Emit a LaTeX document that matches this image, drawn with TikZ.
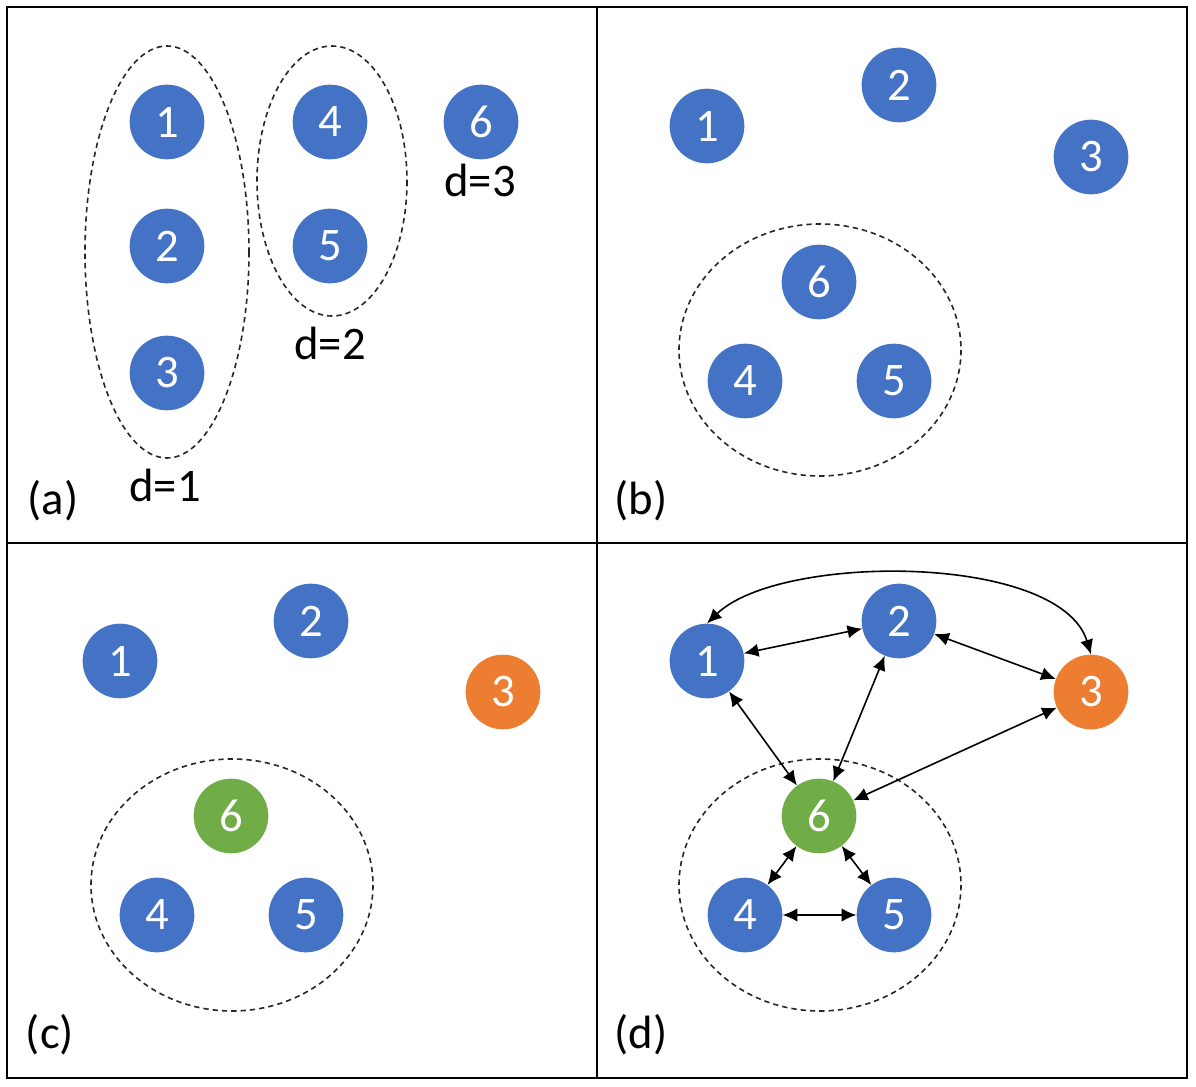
\documentclass[tikz,border=0pt]{standalone}
\usepackage{fontspec}
\setmainfont{Carlito}
\usetikzlibrary{arrows.meta}
\definecolor{nblue}{HTML}{4472C4}
\definecolor{norange}{HTML}{ED7D31}
\definecolor{ngreen}{HTML}{70AD47}
\tikzset{
  vtx/.style={circle, fill=nblue, minimum size=56pt, inner sep=0pt, text=white, font=\fontsize{35pt}{42pt}\selectfont},
  vorange/.style={vtx, fill=norange},
  vgreen/.style={vtx, fill=ngreen},
  lbl/.style={anchor=base, inner sep=0pt, font=\fontsize{35pt}{42pt}\selectfont},
  grp/.style={dashed, dash pattern=on 4pt off 3pt, line width=1.2pt, draw=black!85},
  biarrow/.style={line width=1.2pt, {Latex[length=11pt,width=10pt]}-{Latex[length=11pt,width=10pt]}},
  frame/.style={line width=1.6pt}
}
\begin{document}
\begin{tikzpicture}[x=0.75pt, y=-0.75pt]
\useasboundingbox (0,0) rectangle (1196,1087);
% frame
\draw[frame] (7,7) rectangle (1187,1078);
\draw[frame] (597,7) -- (597,1078);
\draw[frame] (7,543) -- (1187,543);

% ---------- (a)
\draw[grp] (167,252) ellipse [x radius=82, y radius=206];
\draw[grp] (332,181) ellipse [x radius=75, y radius=135];
\node[vtx] (a1) at (167,122) {1};
\node[vtx] (a2) at (167,246) {2};
\node[vtx] (a3) at (167,373) {3};
\node[vtx] (a4) at (330,122) {4};
\node[vtx] (a5) at (330,246) {5};
\node[vtx] (a6) at (481,122) {6};
\node[lbl] (ad3) at (480,197) {d=3};
\node[lbl] (ad2) at (330,360) {d=2};
\node[lbl] (ad1) at (165,501) {d=1};
\node[lbl] (la) at (53,514) {(a)};

% ---------- (b)
\draw[grp] (820,350) ellipse [x radius=141, y radius=126];
\node[vtx] (b1) at (707,126) {1};
\node[vtx] (b2) at (899,85) {2};
\node[vtx] (b3) at (1091,157) {3};
\node[vtx] (b6) at (819,282) {6};
\node[vtx] (b4) at (745,381) {4};
\node[vtx] (b5) at (894,381) {5};
\node[lbl] (lb) at (641,514) {(b)};

% ---------- (c)
\draw[grp] (232,885) ellipse [x radius=141, y radius=126];
\node[vtx] (c1) at (120,661) {1};
\node[vtx] (c2) at (311,621) {2};
\node[vorange] (c3) at (503,692) {3};
\node[vgreen] (c6) at (231,816) {6};
\node[vtx] (c4) at (157,915) {4};
\node[vtx] (c5) at (306,915) {5};
\node[lbl] (lc) at (50,1048) {(c)};

% ---------- (d)
\draw[grp] (820,885) ellipse [x radius=141, y radius=126];
\node[vtx] (d1) at (707,661) {1};
\node[vtx] (d2) at (899,621) {2};
\node[vorange] (d3) at (1091,692) {3};
\node[vgreen] (d6) at (819,816) {6};
\node[vtx] (d4) at (745,915) {4};
\node[vtx] (d5) at (894,915) {5};
\node[lbl] (ld) at (641,1048) {(d)};

\draw[biarrow] (d1) -- (d2);
\draw[biarrow] (d2) -- (d3);
\draw[biarrow] (d1) -- (d6);
\draw[biarrow] (d2) -- (d6);
\draw[biarrow] (d3) -- (d6);
\draw[biarrow] (d6) -- (d4);
\draw[biarrow] (d6) -- (d5);
\draw[biarrow] (d4) -- (d5);
\draw[biarrow] (d1.north) .. controls (780,553) and (1060,553) .. (d3.north);
\end{tikzpicture}
\end{document}
